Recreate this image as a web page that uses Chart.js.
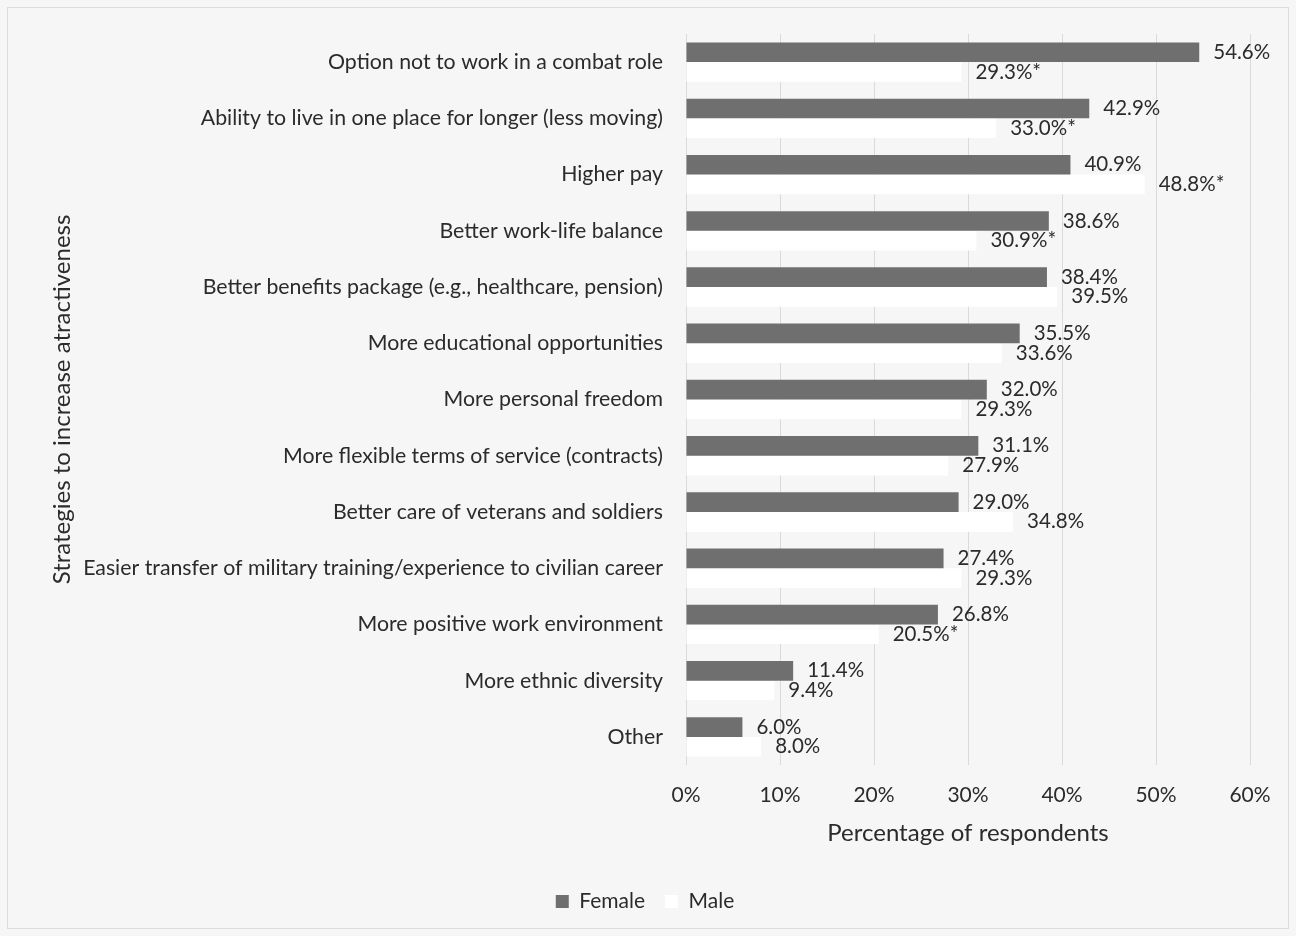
<!DOCTYPE html>
<html>
<head>
<meta charset="utf-8">
<script src="https://cdn.jsdelivr.net/npm/chart.js@4.4.1/dist/chart.umd.min.js"></script>
<style>
  html, body { margin: 0; padding: 0; background: #f6f6f6; }
  #wrap { width: 1296px; height: 936px; }
</style>
</head>
<body>
<div id="wrap"><canvas id="chart" width="1296" height="936"></canvas></div>
<script>
const categories = [
  "Option not to work in a combat role",
  "Ability to live in one place for longer (less moving)",
  "Higher pay",
  "Better work-life balance",
  "Better benefits package (e.g., healthcare, pension)",
  "More educational opportunities",
  "More personal freedom",
  "More flexible terms of service (contracts)",
  "Better care of veterans and soldiers",
  "Easier transfer of military training/experience to civilian career",
  "More positive work environment",
  "More ethnic diversity",
  "Other"
];
const femaleValues = [54.6, 42.9, 40.9, 38.6, 38.4, 35.5, 32.0, 31.1, 29.0, 27.4, 26.8, 11.4, 6.0];
const maleValues = [29.3, 33.0, 48.8, 30.9, 39.5, 33.6, 29.3, 27.9, 34.8, 29.3, 20.5, 9.4, 8.0];
// significant gender difference marker on the male label
const maleSignificant = [true, true, true, true, false, false, false, false, false, false, true, false, false];
const xTicks = [0, 10, 20, 30, 40, 50, 60];

const FONT = "Lato, 'Open Sans', sans-serif";
const TEXT = "#2b2b2b";

// frame and backdrop
const backdrop = {
  id: "backdrop",
  beforeDraw(chart) {
    const ctx = chart.ctx;
    ctx.save();
    ctx.fillStyle = "#f6f6f6";
    ctx.fillRect(0, 0, chart.width, chart.height);
    ctx.strokeStyle = "#dcdcdc";
    ctx.lineWidth = 1;
    ctx.strokeRect(7.5, 7.5, chart.width - 15, chart.height - 15);
    ctx.restore();
  }
};

// value labels at the end of each bar
const valueLabels = {
  id: "valueLabels",
  afterDatasetsDraw(chart) {
    const ctx = chart.ctx;
    ctx.save();
    ctx.font = "20.5px " + FONT;
    ctx.fillStyle = TEXT;
    ctx.textAlign = "left";
    ctx.textBaseline = "middle";
    chart.data.datasets.forEach((ds, di) => {
      const meta = chart.getDatasetMeta(di);
      meta.data.forEach((bar, i) => {
        let txt = ds.data[i].toFixed(1) + "%";
        if (di === 1 && maleSignificant[i]) txt += "*";
        ctx.fillText(txt, bar.x + 14, bar.y);
      });
    });
    ctx.restore();
  }
};

new Chart(document.getElementById("chart"), {
  type: "bar",
  data: {
    labels: categories,
    datasets: [
      {
        label: "Female",
        data: femaleValues,
        backgroundColor: "#6f6f6f",
        borderWidth: 0,
        categoryPercentage: 0.7,
        barPercentage: 1.0
      },
      {
        label: "Male",
        data: maleValues,
        backgroundColor: "#ffffff",
        borderWidth: 0,
        categoryPercentage: 0.7,
        barPercentage: 1.0
      }
    ]
  },
  options: {
    indexAxis: "y",
    responsive: false,
    animation: false,
    devicePixelRatio: 1,
    layout: { padding: { left: 40, right: 46, top: 34, bottom: 14 } },
    plugins: {
      legend: {
        position: "bottom",
        labels: {
          font: { family: FONT, size: 21 },
          color: TEXT,
          boxWidth: 13,
          boxHeight: 13,
          padding: 20
        }
      },
      tooltip: { enabled: false }
    },
    scales: {
      x: {
        min: 0,
        max: 60,
        afterBuildTicks(scale) {
          scale.ticks = xTicks.map(v => ({ value: v }));
        },
        ticks: {
          callback: v => v + "%",
          font: { family: FONT, size: 21 },
          color: TEXT,
          padding: 18
        },
        grid: { color: "#dadada", drawTicks: false },
        border: { display: false },
        title: {
          display: true,
          text: "Percentage of respondents",
          font: { family: FONT, size: 24 },
          color: TEXT,
          padding: { top: -7, bottom: 23 }
        }
      },
      y: {
        afterFit(scale) { scale.width = 646; },
        ticks: {
          font: { family: FONT, size: 21.3 },
          color: TEXT,
          padding: 15
        },
        grid: { display: false },
        border: { display: false },
        title: {
          display: true,
          text: "Strategies to increase atractiveness",
          font: { family: FONT, size: 24 },
          color: TEXT,
          padding: { top: 8, bottom: 0 }
        }
      }
    }
  },
  plugins: [backdrop, valueLabels]
});
</script>
</body>
</html>
